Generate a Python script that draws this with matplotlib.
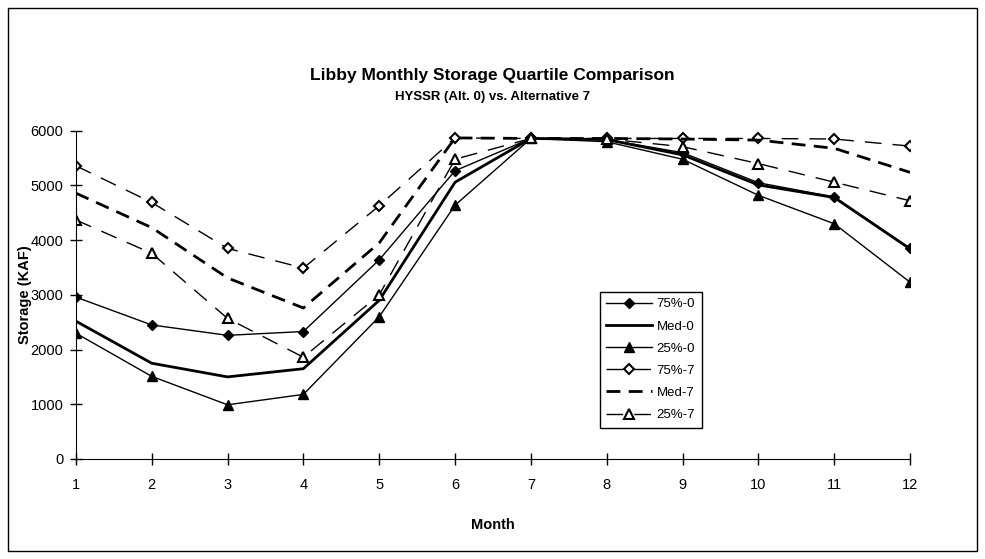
import matplotlib
matplotlib.use("Agg")
import matplotlib.pyplot as plt
from matplotlib.patches import Rectangle

plt.rcParams['font.family'] = ['Liberation Sans', 'DejaVu Sans']

months = [1, 2, 3, 4, 5, 6, 7, 8, 9, 10, 11, 12]
p75_0 = [2960, 2450, 2260, 2330, 3640, 5270, 5860, 5840, 5600, 5050, 4790, 3850]
med_0 = [2520, 1750, 1500, 1650, 2900, 5060, 5860, 5840, 5560, 5010, 4780, 3840]
p25_0 = [2300, 1510, 990, 1180, 2600, 4640, 5860, 5800, 5480, 4820, 4300, 3230]
p75_7 = [5360, 4690, 3850, 3490, 4630, 5870, 5860, 5860, 5860, 5860, 5850, 5720]
med_7 = [4860, 4230, 3310, 2760, 3950, 5870, 5860, 5860, 5850, 5830, 5680, 5240]
p25_7 = [4370, 3760, 2570, 1860, 3000, 5480, 5860, 5850, 5710, 5400, 5060, 4720]

fig = plt.figure(figsize=(9.85, 5.59), dpi=100)
ax = fig.add_axes([0.077, 0.179, 0.847, 0.587])

long_dash = (0, (12, 8))
ax.plot(months, p75_0, color='black', lw=1.0, marker='D', ms=5,
        mfc='black', mec='black', label='75%-0')
ax.plot(months, med_0, color='black', lw=2.0, label='Med-0')
ax.plot(months, p25_0, color='black', lw=1.0, marker='^', ms=6.5,
        mfc='black', mec='black', label='25%-0')
ax.plot(months, p75_7, color='black', lw=1.0, ls=long_dash, marker='D', ms=5,
        mfc='white', mec='black', mew=1.5, label='75%-7')
ax.plot(months, med_7, color='black', lw=2.0, ls=(0, (5, 3)), label='Med-7')
ax.plot(months, p25_7, color='black', lw=1.0, ls=long_dash, marker='^', ms=6.5,
        mfc='white', mec='black', mew=1.5, label='25%-7')

ax.set_xlim(1, 12)
ax.set_ylim(0, 6000)
ax.set_xticks(months)
ax.set_yticks([0, 1000, 2000, 3000, 4000, 5000, 6000])
ax.spines['top'].set_visible(False)
ax.spines['right'].set_visible(False)
ax.tick_params(direction='inout', length=8, width=1, labelsize=10.5)
ax.tick_params(axis='x', pad=10)
ax.tick_params(axis='y', pad=5)
ax.set_xlabel('Month', fontsize=10.5, fontweight='bold')
ax.set_ylabel('Storage (KAF)', fontsize=10.5, fontweight='bold')
ax.xaxis.set_label_coords(0.5, -0.18)
ax.yaxis.set_label_coords(-0.053, 0.5)

fig.text(0.5, 0.865, 'Libby Monthly Storage Quartile Comparison',
         ha='center', va='center', fontsize=12.5, fontweight='bold')
fig.text(0.5, 0.827, 'HYSSR (Alt. 0) vs. Alternative 7',
         ha='center', va='center', fontsize=9.5, fontweight='bold')

leg = ax.legend(loc='upper left', bbox_to_anchor=(0.62, 0.53), fontsize=9.5,
                handlelength=3.5, labelspacing=0.75, handletextpad=0.3,
                borderpad=0.5, frameon=True, fancybox=False, framealpha=1)
leg.get_frame().set_edgecolor('black')
leg.get_frame().set_linewidth(1.0)

fig.patches.append(Rectangle((0.008, 0.014), 0.984, 0.972, transform=fig.transFigure,
                             fill=False, edgecolor='black', lw=1.0))

fig.savefig('out.png', dpi=100)
